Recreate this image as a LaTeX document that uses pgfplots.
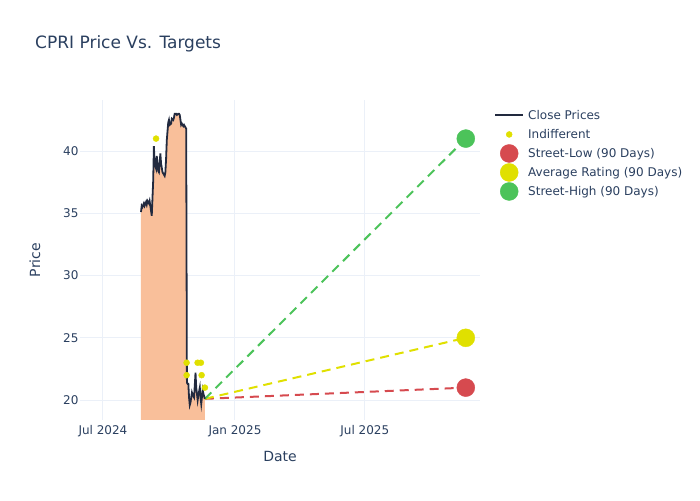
\documentclass[border=0pt]{standalone}
\usepackage{pgfplots}
\pgfplotsset{compat=1.18}
\usepackage{pgfplotstable}
\usepackage{fontspec}
\setmainfont{DejaVu Sans}
\definecolor{txt}{HTML}{2A3F5F}
\definecolor{gridc}{HTML}{EBF0F8}
\definecolor{linec}{HTML}{222A3F}
\definecolor{areac}{HTML}{F9BF9A}
\definecolor{redc}{HTML}{D64A4F}
\definecolor{yelc}{HTML}{E0E000}
\definecolor{grnc}{HTML}{4CC35A}

% x = days since 1 Jul 2024
\pgfplotstableread{
day price
53 35.1
54 35.6
55 35.5
57 35.8
58 35.6
60 35.9
61 35.7
62 36.0
64 35.8
65 36.0
67 35.2
68 34.8
70 37.6
71 40.4
72 39.0
74 38.6
75 39.6
77 38.4
78 38.3
80 39.8
81 39.0
83 38.3
84 38.2
86 38.0
87 38.3
88 39.4
89 40.9
91 42.3
92 42.5
93 42.1
95 42.2
96 42.6
98 42.5
99 42.7
100 43.0
102 43.0
103 42.9
105 43.0
106 43.0
107 42.9
109 42.1
110 42.2
112 42.0
113 42.1
114 42.0
116 41.8
117 21.4
118 21.3
119 21.3
120 20.2
121 19.6
122 19.8
124 20.6
125 20.4
127 20.2
128 21.2
129 22.2
130 21.0
132 20.0
133 20.4
135 21.0
136 20.2
137 19.7
139 20.8
140 20.5
142 20.1
}\price

\pgfplotstableread{
day price
74 41
116.6 23
116.6 22
131.9 23
136.5 23
137.5 22
142.1 21
}\indiff

\begin{document}
\begin{tikzpicture}[x=1pt,y=1pt]
\begin{axis}[
  at={(80pt,80pt)}, anchor=south west,
  scale only axis, width=400pt, height=320pt,
  xmin=-32, xmax=525.5, ymin=18.4, ymax=44.1,
  xtick={0,184,365}, xticklabels={Jul 2024,Jan 2025,Jul 2025},
  ytick={20,25,30,35,40},
  grid=major, grid style={draw=gridc, line width=1pt},
  axis line style={draw=none}, major tick length=0pt,
  tick label style={font=\fontsize{12}{14}\selectfont, text=txt},
  xticklabel style={yshift=-2pt},
  yticklabel style={xshift=2pt},
  /pgf/number format/assume math mode=true,
  xlabel={Date}, ylabel={Price},
  label style={font=\fontsize{14}{16}\selectfont, text=txt},
  xlabel style={at={(axis description cs:0.5,-0.1125)}, anchor=center},
  ylabel style={at={(axis description cs:-0.1125,0.5)}, anchor=center},
  legend style={at={(1.035,0.982)}, anchor=north west, draw=none, fill=none,
    font=\fontsize{12}{14}\selectfont, text=txt, row sep=0pt, inner sep=0pt,
    nodes={inner xsep=4pt}},
  legend cell align=left,
  legend image code/.code={%
    \path[draw=none, fill=none] (0pt,-9.5pt) rectangle (28pt,9.5pt);
    \draw[mark repeat=2,mark phase=2,#1] plot coordinates {(0pt,0pt) (14pt,0pt) (28pt,0pt)};},
]
\addplot[fill=areac, draw=none, forget plot] table[x=day,y=price] {\price} \closedcycle;
\addplot[redc, line width=2pt, dash pattern=on 9pt off 6pt, forget plot] coordinates {(142.1,20.1) (505.7,21)};
\addplot[yelc, line width=2pt, dash pattern=on 9pt off 6pt, forget plot] coordinates {(142.1,20.1) (505.7,25)};
\addplot[grnc, line width=2pt, dash pattern=on 9pt off 6pt, forget plot] coordinates {(142.1,20.1) (505.7,41)};
\addplot[linec, line width=1.8pt,
  legend image code/.code={%
    \path[draw=none, fill=none] (0pt,-9.5pt) rectangle (28pt,9.5pt);
    \draw[linec, line width=2pt] (0pt,0pt) -- (28pt,0pt);}]
  table[x=day,y=price] {\price};
\addplot[yelc, only marks, mark=*, mark size=3pt, mark options={draw=yelc, fill=yelc}] table[x=day,y=price] {\indiff};
\addplot[redc, only marks, mark=*, mark size=9pt, mark options={draw=redc, fill=redc}] coordinates {(505.7,21)};
\addplot[yelc, only marks, mark=*, mark size=9pt, mark options={draw=yelc, fill=yelc}] coordinates {(505.7,25)};
\addplot[grnc, only marks, mark=*, mark size=9pt, mark options={draw=grnc, fill=grnc}] coordinates {(505.7,41)};
\legend{Close Prices, Indifferent, Street-Low (90 Days), Average Rating (90 Days), Street-High (90 Days)}
\end{axis}
\node[anchor=west, inner sep=0pt, font=\fontsize{17}{20}\selectfont, text=txt] at (35,456) {CPRI Price Vs. Targets};
\pgfresetboundingbox
\path[use as bounding box] (0,0) rectangle (700,500);
\end{tikzpicture}
\end{document}
